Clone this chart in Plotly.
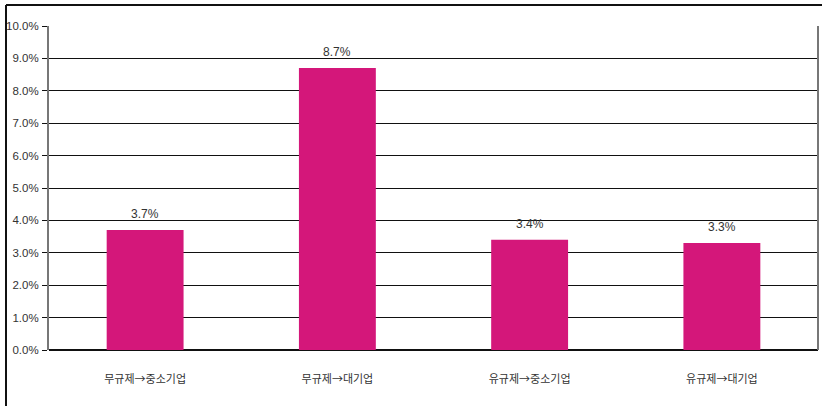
import plotly.graph_objects as go

categories = ["무규제→중소기업", "무규제→대기업", "유규제→중소기업", "유규제→대기업"]
values = [3.7, 8.7, 3.4, 3.3]
value_labels = ["3.7%", "8.7%", "3.4%", "3.3%"]
y_ticks = [0, 1, 2, 3, 4, 5, 6, 7, 8, 9, 10]
y_tick_labels = ["0.0%", "1.0%", "2.0%", "3.0%", "4.0%", "5.0%", "6.0%", "7.0%", "8.0%", "9.0%", "10.0%"]

W, H = 822, 406
L, R, T, B = 49, 4, 26, 56
PW, PH = W - L - R, H - T - B
latin_font = "Liberation Sans, Arial, sans-serif"
kr_font = "Noto Sans CJK KR, Liberation Sans, sans-serif"
text_color = "#333333"

fig = go.Figure(
    go.Bar(
        x=categories,
        y=values,
        marker=dict(color="#D4177A", line=dict(width=0)),
        cliponaxis=False,
        width=0.4,
    )
)

# value labels above each bar
for cat, val, lab in zip(categories, values, value_labels):
    fig.add_annotation(
        x=cat, y=val, text=lab, showarrow=False,
        yanchor="bottom", yshift=7,
        font=dict(family=latin_font, size=12, color=text_color),
    )

fig.update_layout(
    width=W,
    height=H,
    margin=dict(l=L, r=R, t=T, b=B, autoexpand=False),
    paper_bgcolor="white",
    plot_bgcolor="white",
    showlegend=False,
    font=dict(family=latin_font, color=text_color, size=12),
    xaxis=dict(
        showgrid=False,
        showline=False,
        ticks="",
        automargin=False,
        tickfont=dict(size=11, color=text_color, family=kr_font),
        ticklabelstandoff=21,
    ),
    yaxis=dict(
        range=[0, 10],
        tickvals=y_ticks,
        ticktext=y_tick_labels,
        automargin=False,
        showgrid=True,
        gridcolor="#111111",
        gridwidth=1,
        zeroline=True,
        zerolinecolor="#111111",
        zerolinewidth=1.5,
        showline=True,
        linecolor="#777777",
        linewidth=2,
        ticks="outside",
        ticklen=5,
        tickcolor="#111111",
        ticklabelstandoff=1,
        tickfont=dict(size=11.5, color=text_color, family=latin_font),
    ),
    shapes=[
        # outer frame: top and left edges
        dict(type="line", xref="paper", yref="paper", x0=(6 - L) / PW, x1=(W - L) / PW,
             y0=1 + (T - 5) / PH, y1=1 + (T - 5) / PH,
             line=dict(color="#111111", width=2)),
        dict(type="line", xref="paper", yref="paper", x0=(6 - L) / PW, x1=(6 - L) / PW,
             y0=1 + (T - 5) / PH, y1=-B / PH,
             line=dict(color="#111111", width=2)),
        # right border of the plotting area
        dict(type="line", xref="paper", yref="paper", x0=1, x1=1, y0=0, y1=1,
             line=dict(color="#777777", width=2)),
    ],
)

fig.write_html("out.html")
